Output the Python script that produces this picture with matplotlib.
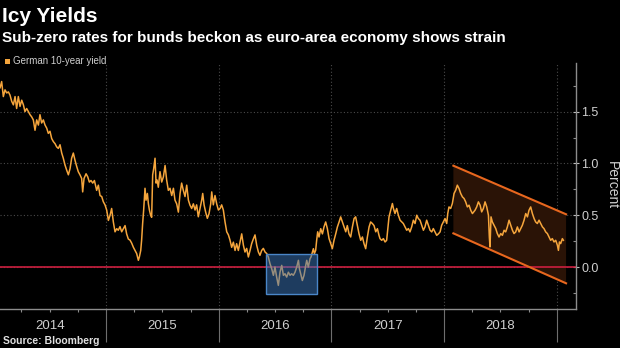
"""German 10-year bund yield, 2014 to early 2019, Bloomberg-style dark chart."""

import matplotlib.pyplot as plt
import matplotlib.transforms as mtransforms
from matplotlib.patches import Polygon, Rectangle

plt.rcParams["font.family"] = ["Liberation Sans", "DejaVu Sans"]

# German 10-year yield (percent), dates as decimal years
t_2014 = [2014.060, 2014.074, 2014.089, 2014.104, 2014.119, 2014.134, 2014.148, 2014.163,
          2014.178, 2014.193, 2014.207, 2014.222, 2014.237, 2014.252, 2014.267, 2014.281,
          2014.296, 2014.311, 2014.326, 2014.340, 2014.355, 2014.370, 2014.385, 2014.400,
          2014.414, 2014.429, 2014.444, 2014.459, 2014.474, 2014.488, 2014.503, 2014.518,
          2014.533, 2014.548, 2014.562, 2014.577, 2014.592, 2014.607, 2014.621, 2014.636,
          2014.651, 2014.666, 2014.681, 2014.695, 2014.710, 2014.725, 2014.740, 2014.754,
          2014.769, 2014.784, 2014.793, 2014.805, 2014.823, 2014.838, 2014.852, 2014.867,
          2014.882, 2014.897, 2014.917, 2014.932, 2014.947, 2014.962, 2014.976, 2014.991]
y_2014 = [1.73, 1.79, 1.645, 1.71, 1.68, 1.69, 1.66, 1.60,
          1.565, 1.645, 1.53, 1.645, 1.55, 1.61, 1.565, 1.50,
          1.53, 1.50, 1.47, 1.45, 1.42, 1.32, 1.42, 1.37,
          1.47, 1.39, 1.42, 1.37, 1.34, 1.29, 1.31, 1.24,
          1.21, 1.19, 1.16, 1.145, 1.18, 1.10, 1.05, 0.985,
          0.935, 0.89, 0.95, 1.05, 1.10, 1.03, 0.97, 0.92,
          0.89, 0.855, 0.725, 0.855, 0.90, 0.87, 0.82, 0.835,
          0.81, 0.835, 0.74, 0.79, 0.69, 0.68, 0.63, 0.60]

t_2015 = [2015.006, 2015.021, 2015.036, 2015.050, 2015.065, 2015.080, 2015.095, 2015.109,
          2015.124, 2015.139, 2015.154, 2015.169, 2015.183, 2015.198, 2015.213, 2015.228,
          2015.243, 2015.257, 2015.272, 2015.287, 2015.296, 2015.308, 2015.316, 2015.325,
          2015.334, 2015.346, 2015.355, 2015.367, 2015.376, 2015.385, 2015.396, 2015.405,
          2015.414, 2015.423, 2015.435, 2015.444, 2015.453, 2015.464, 2015.479, 2015.494,
          2015.509, 2015.524, 2015.538, 2015.553, 2015.568, 2015.583, 2015.598, 2015.612,
          2015.627, 2015.642, 2015.657, 2015.671, 2015.686, 2015.701, 2015.716, 2015.731,
          2015.745, 2015.760, 2015.775, 2015.790, 2015.804, 2015.819, 2015.834, 2015.849,
          2015.858, 2015.870, 2015.884, 2015.899, 2015.914, 2015.929, 2015.938, 2015.952,
          2015.967, 2015.982, 2015.997]
y_2015 = [0.55, 0.45, 0.50, 0.565, 0.435, 0.34, 0.37, 0.355,
          0.39, 0.34, 0.37, 0.40, 0.32, 0.27, 0.26, 0.23,
          0.19, 0.16, 0.13, 0.065, 0.097, 0.16, 0.26, 0.42,
          0.55, 0.76, 0.645, 0.71, 0.61, 0.55, 0.50, 0.48,
          0.89, 0.95, 1.05, 0.81, 0.84, 0.77, 0.92, 0.82,
          0.87, 0.98, 0.84, 0.74, 0.76, 0.69, 0.76, 0.645,
          0.61, 0.53, 0.71, 0.81, 0.74, 0.68, 0.79, 0.645,
          0.597, 0.565, 0.61, 0.55, 0.60, 0.485, 0.565, 0.645,
          0.71, 0.60, 0.53, 0.47, 0.515, 0.61, 0.725, 0.60,
          0.69, 0.61, 0.55]

t_2016 = [2016.012, 2016.026, 2016.041, 2016.056, 2016.071, 2016.086, 2016.100, 2016.115,
          2016.130, 2016.145, 2016.159, 2016.174, 2016.189, 2016.204, 2016.219, 2016.233,
          2016.248, 2016.263, 2016.278, 2016.292, 2016.307, 2016.322, 2016.337, 2016.352,
          2016.366, 2016.381, 2016.396, 2016.411, 2016.426, 2016.440, 2016.455, 2016.470,
          2016.485, 2016.499, 2016.514, 2016.529, 2016.544, 2016.559, 2016.574, 2016.588,
          2016.603, 2016.618, 2016.633, 2016.647, 2016.662, 2016.677, 2016.692, 2016.707,
          2016.716, 2016.727, 2016.742, 2016.757, 2016.772, 2016.781, 2016.795, 2016.810,
          2016.819, 2016.831, 2016.840, 2016.849, 2016.860, 2016.869, 2016.878, 2016.890,
          2016.905, 2016.920, 2016.934, 2016.949, 2016.964, 2016.979, 2016.994]
y_2016 = [0.565, 0.60, 0.55, 0.435, 0.34, 0.31, 0.26, 0.19,
          0.24, 0.16, 0.225, 0.16, 0.24, 0.32, 0.21, 0.145,
          0.18, 0.097, 0.16, 0.225, 0.27, 0.31, 0.21, 0.145,
          0.113, 0.16, 0.18, 0.145, 0.13, 0.097, 0.032, -0.016,
          -0.08, 0.0, -0.097, -0.177, -0.048, 0.016, -0.08, -0.065,
          -0.097, -0.05, -0.08, -0.065, -0.08, -0.05, 0.0, 0.065,
          -0.016, -0.065, -0.13, -0.08, 0.016, 0.065, 0.0, 0.08,
          0.097, 0.145, 0.177, 0.13, 0.16, 0.258, 0.34, 0.29,
          0.37, 0.32, 0.387, 0.435, 0.37, 0.274, 0.226]

t_2017 = [2017.008, 2017.023, 2017.038, 2017.053, 2017.068, 2017.082, 2017.097, 2017.112,
          2017.127, 2017.141, 2017.156, 2017.171, 2017.186, 2017.201, 2017.215, 2017.230,
          2017.245, 2017.260, 2017.275, 2017.289, 2017.304, 2017.319, 2017.334, 2017.348,
          2017.363, 2017.378, 2017.393, 2017.408, 2017.422, 2017.431, 2017.446, 2017.461,
          2017.476, 2017.490, 2017.499, 2017.511, 2017.526, 2017.541, 2017.550, 2017.564,
          2017.579, 2017.594, 2017.609, 2017.624, 2017.638, 2017.653, 2017.668, 2017.683,
          2017.697, 2017.712, 2017.727, 2017.742, 2017.757, 2017.771, 2017.786, 2017.801,
          2017.816, 2017.830, 2017.845, 2017.860, 2017.875, 2017.890, 2017.904, 2017.919,
          2017.934, 2017.949, 2017.964, 2017.978, 2017.993]
y_2017 = [0.177, 0.258, 0.32, 0.387, 0.435, 0.484, 0.435, 0.387,
          0.34, 0.40, 0.32, 0.29, 0.387, 0.468, 0.484, 0.40,
          0.32, 0.258, 0.29, 0.226, 0.177, 0.29, 0.387, 0.435,
          0.42, 0.40, 0.34, 0.37, 0.306, 0.274, 0.258, 0.274,
          0.242, 0.258, 0.355, 0.484, 0.548, 0.613, 0.565, 0.516,
          0.565, 0.50, 0.452, 0.435, 0.42, 0.387, 0.355, 0.371,
          0.339, 0.387, 0.452, 0.42, 0.50, 0.468, 0.452, 0.403,
          0.355, 0.387, 0.452, 0.403, 0.355, 0.339, 0.371, 0.339,
          0.306, 0.32, 0.339, 0.403, 0.435]

t_2018 = [2018.008, 2018.023, 2018.032, 2018.043, 2018.058, 2018.073, 2018.088, 2018.103,
          2018.117, 2018.132, 2018.147, 2018.162, 2018.177, 2018.191, 2018.206, 2018.221,
          2018.236, 2018.251, 2018.274, 2018.289, 2018.304, 2018.319, 2018.333, 2018.348,
          2018.363, 2018.378, 2018.393, 2018.401, 2018.407, 2018.416, 2018.428, 2018.443,
          2018.458, 2018.472, 2018.487, 2018.502, 2018.517, 2018.532, 2018.546, 2018.561,
          2018.576, 2018.591, 2018.606, 2018.620, 2018.635, 2018.650, 2018.665, 2018.679,
          2018.694, 2018.709, 2018.724, 2018.739, 2018.753, 2018.768, 2018.783, 2018.798,
          2018.812, 2018.827, 2018.842, 2018.857, 2018.872, 2018.886, 2018.901, 2018.916,
          2018.931, 2018.945, 2018.960, 2018.975, 2018.990, 2019.005, 2019.014, 2019.023,
          2019.034, 2019.049, 2019.058]
y_2018 = [0.468, 0.42, 0.516, 0.58, 0.565, 0.613, 0.71, 0.742,
          0.79, 0.758, 0.71, 0.677, 0.661, 0.629, 0.58, 0.597,
          0.548, 0.516, 0.548, 0.58, 0.629, 0.597, 0.532, 0.565,
          0.629, 0.58, 0.50, 0.29, 0.194, 0.484, 0.435, 0.403,
          0.371, 0.323, 0.29, 0.323, 0.306, 0.355, 0.339, 0.387,
          0.452, 0.403, 0.355, 0.323, 0.339, 0.387, 0.339, 0.371,
          0.403, 0.452, 0.516, 0.484, 0.548, 0.58, 0.516, 0.468,
          0.435, 0.42, 0.452, 0.42, 0.387, 0.371, 0.339, 0.323,
          0.29, 0.258, 0.274, 0.242, 0.258, 0.21, 0.161, 0.242,
          0.226, 0.274, 0.258]

# Sub-zero stretch in 2016 (box) and the 2018 downtrend channel
box_t = [2016.420, 2016.872]
box_y = [-0.258, 0.123]
channel_t = [2018.082, 2019.082]
channel_top = [0.978, 0.509]
channel_bottom = [0.325, -0.157]

years = [2014, 2015, 2016, 2017, 2018]
y_ticks = [0.0, 0.5, 1.0, 1.5]

LINE = "#f5a53c"
CHANNEL = "#e8671e"
ZERO = "#cc1f3f"
AXIS = "#8c8c8c"
TEXT = "#cfcfcf"
W, H = 620, 348

fig = plt.figure(figsize=(W / 100, H / 100), dpi=100, facecolor="black")
ax = fig.add_axes([0, (H - 309) / H, 576 / W, (309 - 63) / H])
ax.set_facecolor("black")

t_all = t_2014 + t_2015 + t_2016 + t_2017 + t_2018
y_all = y_2014 + y_2015 + y_2016 + y_2017 + y_2018

ax.set_xlim(2014.0594, 2019.170)
ax.set_ylim(-0.405, 1.969)

# channel fill sits under the yield line
ax.add_patch(Polygon(
    [(channel_t[0], channel_top[0]), (channel_t[1], channel_top[1]),
     (channel_t[1], channel_bottom[1]), (channel_t[0], channel_bottom[0])],
    closed=True, facecolor="#2a1306", edgecolor="none", zorder=1))
ax.plot(channel_t, channel_top, color=CHANNEL, lw=1.5, zorder=3)
ax.plot(channel_t, channel_bottom, color=CHANNEL, lw=1.5, zorder=3)

ax.axhline(0, color=ZERO, lw=1.2, zorder=2)
ax.plot(t_all, y_all, color=LINE, lw=1.1, zorder=3)

# translucent box on top so the line shows through pale
ax.add_patch(Rectangle((box_t[0], box_y[0]), box_t[1] - box_t[0], box_y[1] - box_y[0],
                       facecolor="#3c78be", alpha=0.5, edgecolor="none", zorder=4))
ax.add_patch(Rectangle((box_t[0], box_y[0]), box_t[1] - box_t[0], box_y[1] - box_y[0],
                       facecolor="none", edgecolor="#4a86c8", lw=1.0, zorder=4))

for side in ("left", "top"):
    ax.spines[side].set_visible(False)
for side in ("right", "bottom"):
    ax.spines[side].set_color(AXIS)
    ax.spines[side].set_linewidth(1.0)

# y axis on the right
ax.yaxis.tick_right()
ax.set_yticks(y_ticks)
ax.set_yticklabels([f"{v:.1f}" for v in y_ticks])
ax.set_yticks([-0.25, 0.25, 0.75, 1.25, 1.75], minor=True)
ax.tick_params(axis="y", which="major", direction="inout", length=4, width=0.8,
               color="#bbbbbb", labelcolor=TEXT, labelsize=9, pad=2)
ax.tick_params(axis="y", which="minor", direction="in", length=2, width=0.8, color=AXIS)

# x axis: long year dividers, quarter ticks, year labels centred
dividers = [y + 1 for y in years]
ax.set_xticks(dividers)
ax.set_xticklabels([])
ax.set_xticks([y + q for y in years for q in (0.25, 0.5, 0.75)], minor=True)
ax.tick_params(axis="x", which="major", direction="out", length=24, width=0.8, color="#6e6e6e")
ax.tick_params(axis="x", which="minor", direction="out", length=2.5, width=0.8, color=AXIS)

trans = mtransforms.blended_transform_factory(ax.transData, ax.transAxes)
for y in years:
    ax.text(y + 0.5, -17 / 246, str(y), transform=trans, ha="center", va="center",
            color=TEXT, fontsize=9.5)

ax.grid(True, which="major", color="#4a4a4a", lw=0.8, linestyle=(0, (1, 2)))
ax.set_axisbelow(True)

fig.text(612 / W, 1 - 185 / H, "Percent", rotation=270, ha="center", va="center",
         color=TEXT, fontsize=10)

# headline, subtitle, legend, source
fig.text(2 / W, 1 - 22 / H, "Icy Yields", ha="left", va="baseline",
         color="white", fontsize=15, fontweight="bold")
fig.text(2 / W, 1 - 42 / H, "Sub-zero rates for bunds beckon as euro-area economy shows strain",
         ha="left", va="baseline", color="white", fontsize=11, fontweight="bold")
fig.patches.append(Rectangle((5 / W, 1 - 63.5 / H), 5 / W, 5 / H,
                             transform=fig.transFigure, facecolor=LINE, edgecolor="none"))
fig.text(13 / W, 1 - 61 / H, "German 10-year yield", ha="left", va="center",
         color=TEXT, fontsize=7)
fig.text(3 / W, 1 - 341 / H, "Source: Bloomberg", ha="left", va="center",
         color="#e0e0e0", fontsize=7.5, fontweight="bold")

fig.savefig("out.png", dpi=100, facecolor="black")
plt.close(fig)
